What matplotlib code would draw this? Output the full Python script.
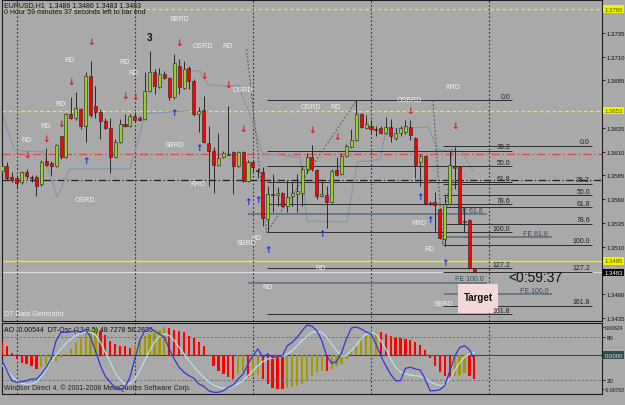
"""
EURUSD H1 chart (MetaTrader style) with AO / DT-Osc sub window
"""

import matplotlib
matplotlib.use("Agg")
import matplotlib.pyplot as plt
import matplotlib.transforms as mtransforms
import numpy as np

plt.rcParams['font.family'] = ['Liberation Sans', 'DejaVu Sans']

# ---------------------------------------------------------------
# Price data, one hourly bar per entry (11 May 21:00 .. 15 May 21:00)
# ---------------------------------------------------------------
bars = list(range(-3, 94))

opens = [1.3590, 1.3595, 1.3583, 1.3582, 1.3578, 1.3589, 1.3583, 1.3583, 1.3576, 1.3600,
         1.3598, 1.3595, 1.3627, 1.3604, 1.3650, 1.3645, 1.3655, 1.3637, 1.3690, 1.3658,
         1.3652, 1.3642, 1.3635, 1.3604, 1.3620, 1.3639, 1.3637, 1.3648, 1.3645, 1.3644,
         1.3674, 1.3694, 1.3678, 1.3692, 1.3688, 1.3667, 1.3700, 1.3677, 1.3698, 1.3684,
         1.3650, 1.3654, 1.3619, 1.3611, 1.3596, 1.3604, 1.3608, 1.3610, 1.3595, 1.3610,
         1.3579, 1.3599, 1.3591, 1.3589, 1.3539, 1.3565, 1.3564, 1.3566, 1.3553, 1.3563,
         1.3565, 1.3566, 1.3592, 1.3604, 1.3591, 1.3563, 1.3564, 1.3557, 1.3591, 1.3587,
         1.3605, 1.3615, 1.3622, 1.3650, 1.3635, 1.3637, 1.3634, 1.3635, 1.3630, 1.3636,
         1.3624, 1.3630, 1.3631, 1.3636, 1.3624, 1.3599, 1.3605, 1.3556, 1.3557, 1.3550,
         1.3518, 1.3555, 1.3595, 1.3594, 1.3537, 1.3538, 1.3486]
highs = [1.3599, 1.3599, 1.3589, 1.3585, 1.3590, 1.3592, 1.3585, 1.3585, 1.3601, 1.3614,
         1.3600, 1.3618, 1.3627, 1.3651, 1.3668, 1.3673, 1.3656, 1.3694, 1.3705, 1.3679,
         1.3655, 1.3645, 1.3645, 1.3623, 1.3644, 1.3650, 1.3650, 1.3652, 1.3648, 1.3694,
         1.3716, 1.3697, 1.3698, 1.3695, 1.3689, 1.3713, 1.3708, 1.3705, 1.3700, 1.3686,
         1.3657, 1.3669, 1.3637, 1.3615, 1.3630, 1.3611, 1.3658, 1.3611, 1.3611, 1.3611,
         1.3601, 1.3601, 1.3593, 1.3594, 1.3574, 1.3587, 1.3573, 1.3568, 1.3580, 1.3578,
         1.3587, 1.3595, 1.3609, 1.3617, 1.3592, 1.3579, 1.3574, 1.3592, 1.3604, 1.3609,
         1.3618, 1.3634, 1.3664, 1.3651, 1.3649, 1.3643, 1.3637, 1.3637, 1.3647, 1.3644,
         1.3635, 1.3637, 1.3643, 1.3643, 1.3625, 1.3608, 1.3607, 1.3558, 1.3568, 1.3551,
         1.3564, 1.3611, 1.3615, 1.3595, 1.3552, 1.3539, 1.3486]
lows = [1.3587, 1.3580, 1.3578, 1.3572, 1.3576, 1.3581, 1.3578, 1.3563, 1.3574, 1.3595,
        1.3585, 1.3594, 1.3602, 1.3603, 1.3644, 1.3643, 1.3634, 1.3620, 1.3647, 1.3645,
        1.3623, 1.3634, 1.3588, 1.3603, 1.3619, 1.3636, 1.3636, 1.3642, 1.3642, 1.3643,
        1.3673, 1.3671, 1.3677, 1.3686, 1.3664, 1.3665, 1.3671, 1.3676, 1.3676, 1.3648,
        1.3631, 1.3619, 1.3574, 1.3566, 1.3595, 1.3603, 1.3607, 1.3565, 1.3594, 1.3578,
        1.3578, 1.3589, 1.3582, 1.3532, 1.3525, 1.3546, 1.3553, 1.3552, 1.3546, 1.3553,
        1.3546, 1.3553, 1.3588, 1.3590, 1.3560, 1.3562, 1.3530, 1.3556, 1.3584, 1.3585,
        1.3604, 1.3614, 1.3621, 1.3635, 1.3634, 1.3630, 1.3627, 1.3629, 1.3629, 1.3620,
        1.3622, 1.3627, 1.3629, 1.3622, 1.3582, 1.3574, 1.3555, 1.3554, 1.3527, 1.3518,
        1.3511, 1.3554, 1.3571, 1.3534, 1.3525, 1.3487, 1.3483]
closes = [1.3595, 1.3582, 1.3580, 1.3577, 1.3589, 1.3584, 1.3582, 1.3574, 1.3599, 1.3596,
          1.3595, 1.3617, 1.3604, 1.3650, 1.3645, 1.3656, 1.3637, 1.3690, 1.3649, 1.3652,
          1.3642, 1.3635, 1.3604, 1.3620, 1.3639, 1.3637, 1.3648, 1.3643, 1.3643, 1.3674,
          1.3694, 1.3679, 1.3692, 1.3687, 1.3667, 1.3703, 1.3678, 1.3697, 1.3684, 1.3650,
          1.3653, 1.3620, 1.3611, 1.3596, 1.3603, 1.3609, 1.3607, 1.3595, 1.3610, 1.3579,
          1.3599, 1.3594, 1.3590, 1.3540, 1.3565, 1.3564, 1.3566, 1.3553, 1.3562, 1.3566,
          1.3569, 1.3592, 1.3604, 1.3592, 1.3563, 1.3565, 1.3557, 1.3590, 1.3585, 1.3605,
          1.3616, 1.3622, 1.3650, 1.3636, 1.3639, 1.3634, 1.3633, 1.3630, 1.3636, 1.3627,
          1.3630, 1.3635, 1.3637, 1.3628, 1.3596, 1.3605, 1.3556, 1.3555, 1.3554, 1.3519,
          1.3555, 1.3596, 1.3593, 1.3535, 1.3536, 1.3488, 1.3483]

# Awesome Oscillator, units of 1e-3
ao_vals = [2.99, 2.09, 0.45, -0.90, -1.80, -2.02, -2.40, -3.15, -2.76, -2.25,
           -2.02, -1.64, -0.74, 0.22, 1.35, 2.85, 3.98, 5.10, 5.69, 6.00,
           5.46, 4.49, 3.21, 2.47, 2.09, 1.95, 1.51, 2.25, 3.21, 4.20,
           4.72, 5.24, 5.69, 6.24, 6.15, 5.69, 5.46, 5.10, 4.34, 3.75,
           2.85, 2.09, -0.20, -2.40, -3.53, -4.27, -5.01, -5.39, -4.27, -3.89,
           -4.94, -4.72, -4.49, -5.39, -6.52, -7.48, -7.55, -7.63, -7.40, -7.20,
           -6.95, -6.52, -5.95, -4.80, -3.75, -3.53, -3.60, -3.15, -2.40, -2.10,
           -0.90, 0.97, 2.09, 3.75, 4.34, 5.10, 5.24, 5.10, 4.72, 4.20,
           3.98, 3.75, 3.66, 3.44, 2.85, 2.25, 1.19, -0.74, -2.40, -3.89,
           -4.79, -5.39, -4.65, -4.49, -4.04, -4.65, -5.44]

# DT-Osc fast (blue) and slow (light cyan) lines, 0..100
dt_fast = [46.8, 32.7, 18.5, 16.3, 17.1, 18.5, 20.9, 20.9, 28.0, 37.5,
           49.2, 75.1, 87.0, 87.0, 87.8, 89.2, 87.0, 90.7, 79.9, 61.0,
           39.7, 24.7, 16.3, 7.8, 5.8, 9.2, 23.3, 49.2, 75.1, 89.2,
           92.6, 89.2, 84.6, 79.9, 63.4, 49.2, 37.5, 30.4, 25.6, 21.9,
           13.9, 10.6, 4.4, 2.1, 2.1, 4.4, 9.2, 12.4, 20.9, 28.0,
           42.1, 53.9, 63.4, 51.6, 56.3, 51.6, 51.6, 53.9, 68.0, 72.8,
           79.9, 89.2, 97.3, 95.5, 89.2, 75.1, 53.9, 43.1, 45.4, 57.7,
           77.5, 93.1, 94.5, 91.7, 87.4, 85.0, 70.4, 53.9, 39.7, 27.6,
           18.5, 18.5, 36.1, 37.5, 35.1, 33.7, 20.9, 4.4, 4.4, 5.8,
           11.5, 31.8, 53.0, 65.2, 68.0, 62.4, 48.7]
dt_slow = [40.7, 32.7, 24.7, 18.5, 14.8, 13.4, 13.9, 16.3, 24.7, 35.1,
           45.4, 54.9, 63.4, 71.4, 77.5, 82.2, 85.6, 87.0, 87.0, 83.2,
           72.8, 58.7, 44.6, 30.4, 19.9, 13.9, 13.9, 20.9, 32.7, 46.8,
           61.0, 72.8, 81.3, 84.6, 82.2, 75.1, 65.8, 56.3, 46.8, 38.3,
           30.4, 23.3, 17.1, 12.4, 9.2, 7.8, 7.8, 10.6, 13.9, 18.5,
           25.6, 32.7, 39.7, 45.4, 49.2, 50.6, 51.6, 53.0, 56.3, 61.0,
           68.0, 75.1, 81.3, 87.0, 87.8, 87.0, 79.9, 70.4, 61.0, 53.0,
           53.9, 61.0, 69.0, 77.5, 84.6, 87.0, 84.6, 75.1, 63.4, 49.2,
           37.5, 30.4, 28.0, 26.6, 25.6, 24.7, 21.9, 17.1, 13.9, 11.5,
           12.4, 20.9, 32.7, 43.6, 51.6, 56.3, 58.3]

# time axis
date_ticks = [-3, 5, 13, 21, 29, 37, 45, 53, 61, 69, 77, 85, 93]
date_labels = ["11 May 2009", "12 May 05:00", "12 May 13:00", "12 May 21:00",
               "13 May 05:00", "13 May 13:00", "13 May 21:00", "14 May 05:00",
               "14 May 13:00", "14 May 21:00", "15 May 05:00", "15 May 13:00",
               "15 May 21:00"]
day_breaks = [0, 24, 48, 72, 96]

price_ticks = [1.3735, 1.3710, 1.3685, 1.3635, 1.3610, 1.3585, 1.3560,
               1.3535, 1.3510, 1.3460, 1.3435]

# horizontal price levels
yellow_dashed = [1.3760, 1.3653]
yellow_solid = 1.3495
bid_price = 1.3483
red_dashdot = 1.3608
black_dashdot = 1.3580

# fibonacci retracements (high, low, first bar, last bar)
fib_ratios = [0.0, 38.2, 50.0, 61.8, 78.6, 100.0, 127.2, 161.8]
fib_a = (1.3664, 1.3525, 50.9, 100.7)
fib_b = (1.3616, 1.3512, 86.6, 116.9)

# fibonacci expansion levels (label, price, first bar, last bar)
fe_levels = [("FE 61.8", 1.3544, 47.0, 95.6), ("FE 100.0", 1.3472, 47.0, 95.6),
             ("FE 61.8", 1.3520, 86.8, 108.8), ("FE 100.0", 1.3460, 86.8, 108.8)]

# signal arrows
down_bars = [2, 6, 9, 11, 15, 22, 24, 33, 38, 43, 46, 60, 65, 80, 89]
down_prices = [1.3607, 1.3624, 1.3640, 1.3684, 1.3726, 1.3669, 1.3668, 1.3725,
               1.3690, 1.3681, 1.3634, 1.3633, 1.3626, 1.3653, 1.3638]
up_bars = [14, 32, 37, 47, 49, 51, 62, 82, 84, 87]
up_prices = [1.3601, 1.3651, 1.3614, 1.3558, 1.3560, 1.3507, 1.3524, 1.3563,
             1.3539, 1.3493]

# divergence labels
sig_bars = [10.8, 21.8, 23.8, 8.8, 5.9, 1.9, 13.9, 33.0, 37.8, 42.9, 45.9, 32.0,
            36.8, 48.8, 46.8, 59.8, 64.7, 79.7, 88.7, 81.8, 83.8, 61.8, 50.9, 86.8]
sig_prices = [1.3707, 1.3705, 1.3693, 1.3661, 1.3638, 1.3623, 1.3560, 1.3750,
              1.3722, 1.3722, 1.3675, 1.3618, 1.3577, 1.3520, 1.3514, 1.3657,
              1.3658, 1.3665, 1.3679, 1.3535, 1.3508, 1.3488, 1.3468, 1.3450]
sig_texts = ["RD", "RD", "RD", "RD", "RD", "RD", "OSRD", "SBRD", "OSRD", "RD",
             "OSRD", "SBRD", "KRD", "RD", "SBRD", "OSRD", "RD", "OSBRD", "KRD",
             "KRD", "RD", "RD", "RD", "SBRD"]

# envelope / zigzag indicator lines (bar, price)
env_1 = [(-3.1, 1.3652), (-0.4, 1.3611), (5.3, 1.3610), (8.2, 1.3562), (10.8, 1.3592),
         (23.0, 1.3592), (25.5, 1.3637), (25.9, 1.3650), (34.8, 1.3653)]
env_2 = [(34.8, 1.3695), (37.2, 1.3695), (38.9, 1.3680), (45.4, 1.3679)]
env_3 = [(45.0, 1.3679), (47.8, 1.3644), (49.9, 1.3608), (57.6, 1.3604), (59.0, 1.3537),
         (67.1, 1.3536), (69.2, 1.3599), (73.8, 1.3602), (75.1, 1.3634), (83.6, 1.3636),
         (85.6, 1.3612), (90.5, 1.3610), (92.7, 1.3590)]
zigzag_1 = [(46.7, 1.3718), (50.8, 1.3525), (69.1, 1.3664)]
zigzag_2 = [(84.6, 1.3664), (86.6, 1.3512), (88.5, 1.3613)]

target_box = (89.7, 97.8, 1.3440, 1.3471)
countdown = (99.9, 1.3478, "<0:59:37")

# ---------------------------------------------------------------
# Figure
# ---------------------------------------------------------------
BG = '#a9a9a9'
BULL = '#9acd32'
BEAR = '#ff0000'
OLIVE = '#a09a00'
FRAME = '#1c1c1c'
FS = 5.0       # small MT4-like font
AXFS = 4.3     # axis labels on the right

fig = plt.figure(figsize=(6.25, 4.06), dpi=100, facecolor=BG)
W, H = 625.0, 406.0
ax = fig.add_axes([2 / W, (H - 322) / H, 600 / W, 321 / H], facecolor=BG)
ax_ind = fig.add_axes([2 / W, (H - 395) / H, 600 / W, 71 / H], facecolor=BG)

xlim = (-3.0, 118.95)
ax.set_xlim(*xlim)
ax.set_ylim(1.34318, 1.37696)
ax_ind.set_xlim(*xlim)
ax_ind.set_ylim(-0.00876, 0.00719)

for a in (ax, ax_ind):
    for s in a.spines.values():
        s.set_color(FRAME)
        s.set_linewidth(0.8)

x = np.array(bars)
o = np.array(opens)
h = np.array(highs)
l = np.array(lows)
c = np.array(closes)

# --- horizontal levels ---
for lv in yellow_dashed:
    ax.axhline(lv, color='#f0f000', lw=0.9, ls=(0, (3, 2)), zorder=1)
ax.axhline(yellow_solid, color='#f0f000', lw=1.0, zorder=1)
ax.axhline(bid_price, color='#d8d8d8', lw=0.9, zorder=1)
ax.axhline(red_dashdot, color='#dd4a4a', lw=1.0, ls=(0, (6, 2, 1, 2)), zorder=1)
ax.axhline(black_dashdot, color='#202020', lw=0.9, ls=(0, (6, 2, 1, 2)), zorder=1)

# day separators
for d in day_breaks:
    ax.axvline(d, color='#303030', lw=0.8, ls=(0, (1.5, 2)), zorder=1)
    ax_ind.axvline(d, color='#303030', lw=0.8, ls=(0, (1.5, 2)), zorder=1)

# envelope + zigzag lines
for pts in (env_1, env_2, env_3):
    px, py = zip(*pts)
    ax.plot(px, py, color='#8797a8', lw=0.9, zorder=2)
for pts in (zigzag_1, zigzag_2):
    px, py = zip(*pts)
    ax.plot(px, py, color='#666666', lw=0.9, ls=(0, (1.5, 1.5)), zorder=2)

# fibonacci retracements
for hi, lo, x0, x1 in (fib_a, fib_b):
    for r in fib_ratios:
        lv = hi - r / 100.0 * (hi - lo)
        ax.hlines(lv, x0, x1, color='#2e2e2e', lw=0.7, zorder=2)
        ax.text(x1 - 0.4, lv + 0.00005, f"{r:.1f}", fontsize=FS, color='#202020',
                ha='right', va='bottom', zorder=6)

# fibonacci expansions
for txt, lv, x0, x1 in fe_levels:
    ax.hlines(lv, x0, x1, color='#5c6c7c', lw=1.1, zorder=2)
    ax.text(x1 - 0.8, lv + 0.00005, txt, fontsize=FS, color='#3a4a5c',
            ha='right', va='bottom', zorder=6)

# target box
tx0, tx1, ty0, ty1 = target_box
ax.fill_between([tx0, tx1], ty0, ty1, color='#f4d8d8', zorder=3, lw=0)
ax.text((tx0 + tx1) / 2, (ty0 + ty1) / 2 + 0.0002, "Target", fontsize=7, fontweight='bold',
        ha='center', va='center', color='#101010', zorder=7)
ax.text(countdown[0], countdown[1], countdown[2], fontsize=10, ha='left', va='center',
        color='#111111', zorder=7)

# --- candles ---
up = c >= o
body_lo = np.minimum(o, c)
body_h = np.maximum(np.abs(c - o), 0.00004)
ax.vlines(x, l, h, color='#2a2a2a', lw=0.7, zorder=4)
ax.bar(x, body_h, width=0.62, bottom=body_lo, color=np.where(up, BULL, BEAR),
       edgecolor='#202020', linewidth=0.4, zorder=5)

# --- signals ---
for bx, py in zip(down_bars, down_prices):
    ax.text(bx, py, "\u2193", fontsize=6.5, fontweight='bold', color='#ee1111',
            family='DejaVu Sans', ha='center', va='center', zorder=6)
for bx, py in zip(up_bars, up_prices):
    ax.text(bx, py, "\u2191", fontsize=6.5, fontweight='bold', color='#1530e0',
            family='DejaVu Sans', ha='center', va='center', zorder=6)
for bx, py, t in zip(sig_bars, sig_prices, sig_texts):
    ax.text(bx, py, t, fontsize=FS, color='#f2f2f2', ha='center', va='center', zorder=6)
ax.text(26.9, 1.3731, "3", fontsize=7, fontweight='bold', color='#111111',
        ha='center', va='center', zorder=6)

# header text
ax.text(0.004, 0.997, "EURUSD,H1  1.3486 1.3486 1.3483 1.3483", transform=ax.transAxes,
        fontsize=FS, ha='left', va='top', color='#101010')
ax.text(0.004, 0.975, "0 Hour 59 minutes 37 seconds left to bar end", transform=ax.transAxes,
        fontsize=FS, ha='left', va='top', color='#101010')
ax.text(0.004, 0.012, "DT Data Generator", transform=ax.transAxes,
        fontsize=FS, ha='left', va='bottom', color='#eeeeee')

# price axis on the right
ax.set_xticks([])
ax.yaxis.tick_right()
ax.set_yticks(price_ticks)
ax.set_yticklabels([f"{p:.4f}" for p in price_ticks])
ax.tick_params(axis='y', labelsize=AXFS, length=2, width=0.6, pad=1.2,
               colors='#101010')

yt = mtransforms.blended_transform_factory(ax.transAxes, ax.transData)
for lv, fc, tc in ((1.3760, '#f0f000', '#555500'), (1.3653, '#f0f000', '#555500'),
                   (1.3495, '#f0f000', '#555500'), (bid_price, '#000000', '#ffffff')):
    ax.text(1.004, lv, f"{lv:.4f}", transform=yt, fontsize=AXFS, color=tc,
            ha='left', va='center', clip_on=False,
            bbox=dict(boxstyle='square,pad=0.2', fc=fc, ec='none'))

# ---------------------------------------------------------------
# Indicator window: AO histogram + DT-Osc lines
# ---------------------------------------------------------------
ao = np.array(ao_vals) * 1e-3
ao_col = [BEAR] + [OLIVE if ao[k] > ao[k - 1] else BEAR for k in range(1, len(ao))]
ax_ind.bar(x, ao, width=0.45, color=ao_col, zorder=3)
ax_ind.axhline(0, color='#3c4a4a', lw=0.8, zorder=2)

ax_osc = ax_ind.twinx()
ax_osc.set_ylim(-0.3, 100.1)
ax_osc.set_xlim(*xlim)
for lv in (80, 20):
    ax_osc.axhline(lv, color='#6e6e6e', lw=0.6, ls=(0, (3, 2)), zorder=1)
ax_osc.plot(x, dt_slow, color='#b4e2ea', lw=0.9, zorder=4)
ax_osc.plot(x, dt_fast, color='#3535d8', lw=0.9, zorder=5)
for s in ax_osc.spines.values():
    s.set_visible(False)

ax_ind.yaxis.tick_right()
ax_ind.set_yticks([0.00624, -0.00763])
ax_ind.set_yticklabels(["0.00624", "-0.00763"])
ax_ind.tick_params(axis='y', labelsize=3.6, length=1.5, width=0.6, pad=0.5, colors='#101010')
ax_osc.set_yticks([80, 20])
ax_osc.set_yticklabels(["80", "20"])
ax_osc.tick_params(axis='y', labelsize=AXFS, length=2, width=0.6, pad=1.2, colors='#101010')

yt2 = mtransforms.blended_transform_factory(ax_ind.transAxes, ax_ind.transData)
ax_ind.text(1.004, 0.0, "0.0000", transform=yt2, fontsize=AXFS, color='#d8d8d8',
            ha='left', va='center', clip_on=False,
            bbox=dict(boxstyle='square,pad=0.2', fc='#2f4f4f', ec='none'))

ax_ind.text(0.004, 0.96, "AO -0.00544  DT-Osc (13,8,5) 48.7278 58.2835",
            transform=ax_ind.transAxes, fontsize=FS, ha='left', va='top', color='#101010')
ax_ind.text(0.004, 0.04, "Windsor Direct 4, \u00a9 2001-2008 MetaQuotes Software Corp.",
            transform=ax_ind.transAxes, fontsize=FS, ha='left', va='bottom', color='#202020')

# date axis
ax_ind.set_xticks(date_ticks)
ax_ind.set_xticklabels(date_labels, ha='left')
ax_ind.tick_params(axis='x', labelsize=FS, length=2, width=0.6, pad=1.5, colors='#101010')
ax_osc.set_xticks([])

fig.savefig('out.png', dpi=100, facecolor=BG)
